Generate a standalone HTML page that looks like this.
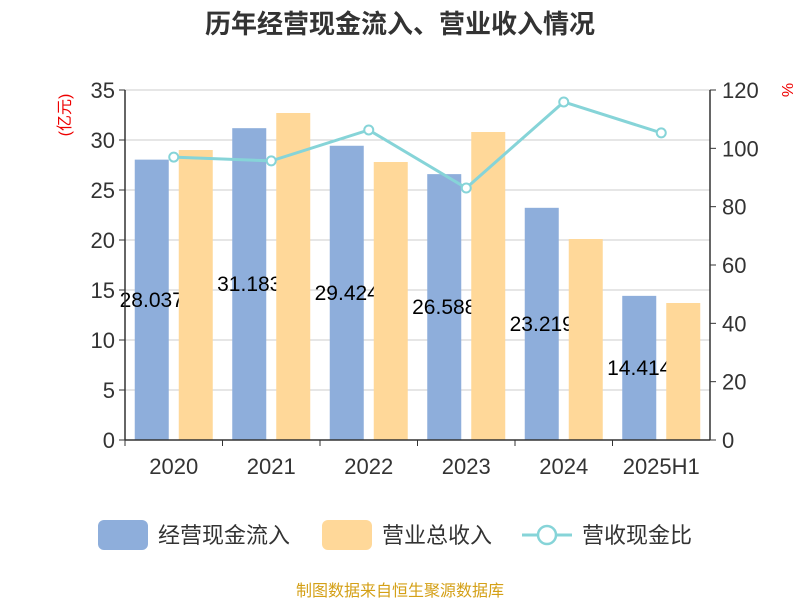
<!DOCTYPE html>
<html><head><meta charset="utf-8"><style>
body{margin:0;background:#fff;}
svg{display:block;font-family:"Liberation Sans","Noto Sans CJK SC",sans-serif;}
</style></head><body>
<svg id="c" width="800" height="600">
<text x="400" y="33" text-anchor="middle" font-size="26" font-weight="bold" fill="#333">历年经营现金流入、营业收入情况</text>
<text x="0" y="0" transform="translate(70,115) rotate(-90)" text-anchor="middle" font-size="16" fill="#e00">(亿元)</text>
<text x="0" y="0" transform="translate(782,90) rotate(90)" text-anchor="middle" font-size="16" fill="#e00">%</text>
<g id="grid"></g><g id="blue"></g><g id="labels"></g><g id="orange"></g><g id="line"></g><g id="axes"></g>
<g>
<rect x="98" y="520" width="50" height="30" rx="6" fill="#8eaedb"/>
<text x="158" y="543" font-size="22" fill="#333">经营现金流入</text>
<rect x="322" y="520" width="50" height="30" rx="6" fill="#ffd899"/>
<text x="382" y="543" font-size="22" fill="#333">营业总收入</text>
<line x1="522" y1="535" x2="572" y2="535" stroke="#86d4d8" stroke-width="3"/>
<circle cx="547" cy="535" r="9" fill="#fff" stroke="#86d4d8" stroke-width="2.5"/>
<text x="582" y="543" font-size="22" fill="#333">营收现金比</text>
</g>
<text x="400" y="596" text-anchor="middle" font-size="16" fill="#d4a017">制图数据来自恒生聚源数据库</text>
</svg>
<script>
const categories=["2020","2021","2022","2023","2024","2025H1"];
const cashValues=[28.037,31.183,29.424,26.588,23.219,14.414];
const revenueValues=[29.0,32.7,27.8,30.8,20.1,13.7];
const ratioValues=[97.0,95.7,106.3,86.4,115.9,105.3];
const leftTicks=[0,5,10,15,20,25,30,35];
const rightTicks=[0,20,40,60,80,100,120];
const NS="http://www.w3.org/2000/svg";
const X0=125,X1=710,Y0=440,Y1=90;
const bw=(X1-X0)/categories.length;
const yL=v=>Y0-(v/35)*(Y0-Y1);
const yR=v=>Y0-(v/120)*(Y0-Y1);
const cx=i=>X0+bw*(i+0.5);
function mk(tag,attrs,parent,txt){const e=document.createElementNS(NS,tag);for(const k in attrs)e.setAttribute(k,attrs[k]);if(txt!=null)e.textContent=txt;document.getElementById(parent).appendChild(e);return e;}
leftTicks.forEach(t=>{
 const l=mk('line',{x1:X0,x2:X1,y1:yL(t),y2:yL(t),stroke:'#ccc','stroke-width':1},'grid');
 
 
 const tk=mk('line',{x1:X0-6,x2:X0,y1:yL(t),y2:yL(t),stroke:'#333'},'axes');
 
 
 const tx=mk('text',{x:X0-10,y:yL(t)+8,'text-anchor':'end','font-size':22,fill:'#333'},'axes',t);
 
 
});
rightTicks.forEach(t=>{
 const tk=mk('line',{x1:X1,x2:X1+6,y1:yR(t),y2:yR(t),stroke:'#333'},'axes');
 
 
 const tx=mk('text',{x:X1+12,y:yR(t)+8,'font-size':22,fill:'#333'},'axes',t);
 
 
});
[[X0,Y1,X0,Y0],[X1,Y1,X1,Y0],[X0,Y0,X1,Y0]].forEach(a=>{
 const l=mk('line',{x1:a[0],y1:a[1],x2:a[2],y2:a[3],stroke:'#333','stroke-width':1.5},'axes');
 
 
});
categories.forEach((c,i)=>{
 const tk=mk('line',{x1:X0+bw*i,x2:X0+bw*i,y1:Y0,y2:Y0+6,stroke:'#333'},'axes');
 
 
 const tx=mk('text',{x:cx(i),y:Y0+34,'text-anchor':'middle','font-size':22,fill:'#333'},'axes',c);
 
 
 const b=mk('rect',{x:cx(i)-39,y:yL(cashValues[i]),width:34,height:Y0-yL(cashValues[i]),fill:'#8eaedb'},'blue');
 
 
 const lb=mk('text',{x:cx(i)-22,y:(yL(cashValues[i])+Y0)/2+7,'text-anchor':'middle','font-size':21,fill:'#000'},'labels',cashValues[i].toFixed(3));
 
 
 const o=mk('rect',{x:cx(i)+5,y:yL(revenueValues[i]),width:34,height:Y0-yL(revenueValues[i]),fill:'#ffd899'},'orange');
 
 
});
const pts=ratioValues.map((v,i)=>cx(i)+','+yR(v)).join(' ');
const pl=mk('polyline',{points:pts,fill:'none',stroke:'#86d4d8','stroke-width':3},'line');


ratioValues.forEach((v,i)=>{
 const p=mk('circle',{cx:cx(i),cy:yR(v),r:4.5,fill:'#fff',stroke:'#86d4d8','stroke-width':2},'line');
 
 
});
</script>
</body></html>
